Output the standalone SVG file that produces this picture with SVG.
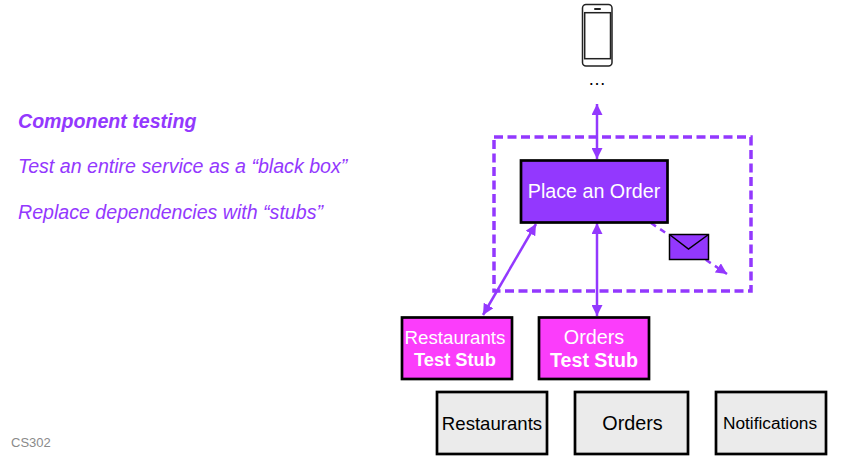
<svg xmlns="http://www.w3.org/2000/svg" width="843" height="465" viewBox="0 0 843 465">
<style>
text{font-family:"Liberation Sans",Arial,sans-serif}
.cap{fill:#9338fe;font-size:19.600px;font-style:italic}
.box{stroke:#000;stroke-width:2.700}
.stub{fill:#fb3dfb}
.svc{fill:#ebebeb}
.w{fill:#fff;text-anchor:middle}
.k{fill:#000;text-anchor:middle}
.c{stroke:#9338fe;stroke-width:2.500;fill:none}
</style>
<defs>
<marker id="a" viewBox="0 0 10 10" refX="10" refY="5" markerWidth="11" markerHeight="11" markerUnits="userSpaceOnUse" orient="auto-start-reverse"><path d="M0 0L10 5L0 10Z" fill="#9338fe"/></marker>
</defs>
<rect width="843" height="465" fill="#fff"/>
<text class="cap" x="18" y="128" font-weight="bold">Component testing</text>
<text class="cap" x="18" y="173">Test an entire service as a “black box”</text>
<text class="cap" x="18" y="219">Replace dependencies with “stubs”</text>
<text x="11" y="447" font-size="13" fill="#8a8a8a">CS302</text>
<g id="boundary"><rect x="494" y="137" width="257" height="154" fill="none" stroke="#9338fe" stroke-width="3.500" stroke-dasharray="9 4.500"/></g>
<g id="phone">
<rect x="582.500" y="4.500" width="29.500" height="61.500" rx="3.500" fill="#fff" stroke="#222" stroke-width="1.500"/>
<rect x="584.700" y="12.700" width="25.800" height="46" fill="#fff" stroke="#222" stroke-width="1.500"/>
<rect x="594" y="8" width="7" height="2" rx="1" fill="#222"/>
<text class="k" x="597" y="85" font-size="18">…</text>
</g>
<g id="connectors">
<path class="c" d="M597 104V159" marker-start="url(#a)" marker-end="url(#a)"/>
<path class="c" d="M536 224L483 315" marker-start="url(#a)" marker-end="url(#a)"/>
<path class="c" d="M597 223V316" marker-start="url(#a)" marker-end="url(#a)"/>
<path class="c" d="M651 223L727 274" stroke-dasharray="6 5" marker-end="url(#a)"/>
</g>
<g id="place-order"><rect class="box" x="521" y="160.500" width="146.500" height="62" fill="#9338fe"/>
<text class="w" x="594" y="198" font-size="19.700">Place an Order</text></g>
<g id="message"><rect x="669.500" y="234.500" width="39" height="25" fill="#9338fe" stroke="#000" stroke-width="1.500"/>
<path d="M669.500 234.500L688.500 249L708.500 234.500" fill="none" stroke="#000" stroke-width="1.500"/></g>
<g id="restaurants-stub"><rect class="box stub" x="402" y="317.500" width="110" height="61.500"/>
<text class="w" x="455" y="344" font-size="18.700">Restaurants</text>
<text class="w" x="455" y="366" font-size="18.300" font-weight="bold">Test Stub</text></g>
<g id="orders-stub"><rect class="box stub" x="539" y="317.500" width="110" height="61.500"/>
<text class="w" x="594" y="344" font-size="19.800">Orders</text>
<text class="w" x="594" y="367" font-size="19.600" font-weight="bold">Test Stub</text></g>
<g id="restaurants"><rect class="box svc" x="437" y="392" width="110" height="62"/>
<text class="k" x="492" y="430" font-size="18.600">Restaurants</text></g>
<g id="orders"><rect class="box svc" x="575" y="392" width="113" height="62"/>
<text class="k" x="632.500" y="430" font-size="19.800">Orders</text></g>
<g id="notifications"><rect class="box svc" x="716" y="392" width="110" height="62"/>
<text class="k" x="770" y="429" font-size="17.300">Notifications</text></g>
</svg>
